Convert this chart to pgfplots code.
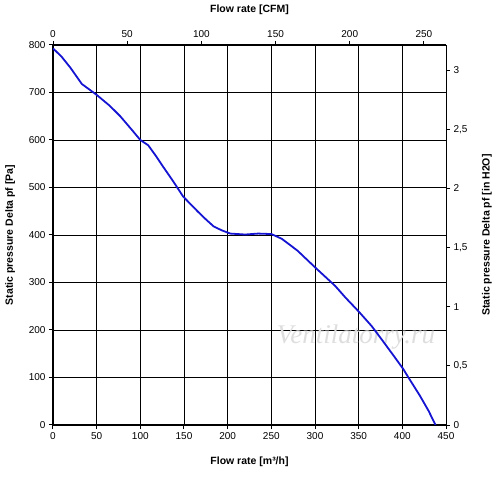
\documentclass[border=0pt]{standalone}
\usepackage{pgfplots}
\pgfplotsset{compat=1.18}
\usepackage{fontspec}
\setmainfont{Liberation Sans}
\newfontfamily\wmfont{Liberation Serif}
\begin{document}
\begin{tikzpicture}
\path[use as bounding box] (-53bp,-53bp) rectangle (447bp,425bp);
\begin{axis}[
  at={(0,0)}, anchor=south west,
  scale only axis, width=393bp, height=380bp,
  xmin=0, xmax=450, ymin=0, ymax=800,
  axis x line*=bottom, axis y line*=left,
  axis line style={line width=1.6bp, black, -},
  xtick={0,50,...,450}, ytick={0,100,...,800},
  grid=major, grid style={black, line width=0.8bp},
  tick align=outside, major tick length=4bp,
  tick style={black, line width=1bp},
  ticklabel style={font=\fontsize{10bp}{12bp}\selectfont},
  /pgf/number format/assume math mode=true,
  xlabel={Flow rate [m³/h]}, ylabel={Static pressure Delta pf [Pa]},
  label style={font=\bfseries\fontsize{10.5bp}{12bp}\selectfont},
  xlabel style={at={(axis description cs:0.5,-0.097)}, anchor=center},
  ylabel style={at={(axis description cs:-0.109,0.5)}, anchor=center},
]
\node[font=\wmfont\itshape\fontsize{27bp}{29bp}\selectfont, text=black!13, anchor=center] at (axis cs:347,185) {Ventilatorry.ru};
\addplot[color={rgb,255:red,20;green,20;blue,210}, line width=1.8bp] coordinates {
(0,793) (10,775) (20,752) (33,718) (50,695) (65,672) (77,650) (90,622) (100,600)
(109,589) (118,566) (126,544) (138,512) (149,481) (158,464) (166,449) (175,433)
(184,418) (193,410) (203,403) (220,401) (235,403) (250,402) (262,392) (280,367)
(300,332) (323,293) (335,268) (350,239) (365,208) (378,176) (390,146) (401,118)
(407,100) (420,62) (430,30) (438,0)
};
\end{axis}
\begin{axis}[
  at={(0,0)}, anchor=south west,
  scale only axis, width=393bp, height=380bp,
  xmin=0, xmax=264.86, ymin=0, ymax=3.2117,
  axis x line*=top, axis y line*=right,
  axis line style={line width=1bp, black, -},
  xtick={0,50,...,250}, ytick={0,0.5,...,3},
  tick align=outside, major tick length=4bp,
  tick style={black, line width=1bp},
  ticklabel style={font=\fontsize{10bp}{12bp}\selectfont},
  /pgf/number format/assume math mode=true,
  /pgf/number format/use comma,
  xlabel={Flow rate [CFM]}, ylabel={Static pressure Delta pf [in H2O]},
  label style={font=\bfseries\fontsize{10.5bp}{12bp}\selectfont},
  xlabel style={at={(axis description cs:0.5,1.092)}, anchor=center},
  ylabel style={at={(axis description cs:1.104,0.5)}, anchor=center},
]
\end{axis}
\end{tikzpicture}
\end{document}
